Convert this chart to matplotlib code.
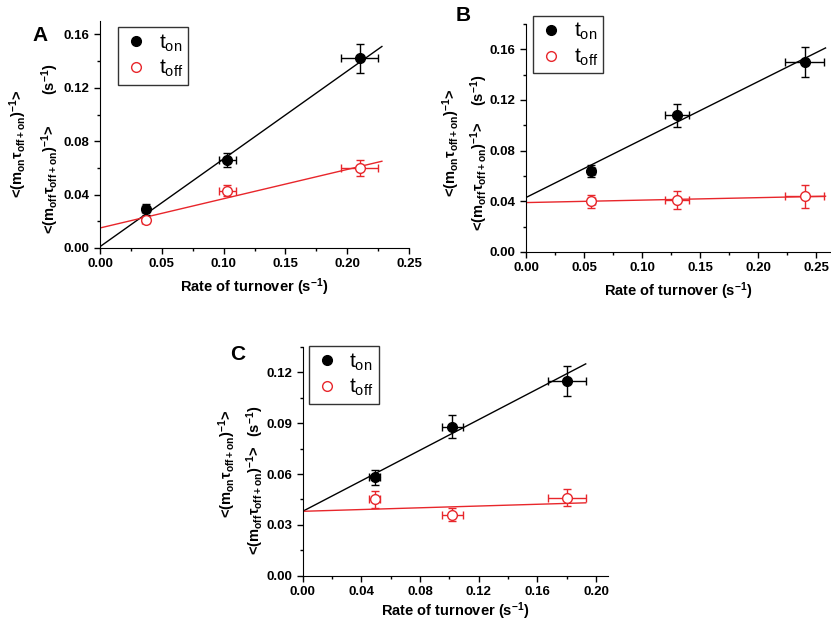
import matplotlib
matplotlib.use("Agg")
import matplotlib.pyplot as plt
from matplotlib.ticker import MultipleLocator

plt.rcParams['font.family'] = ['Liberation Sans', 'DejaVu Sans']
plt.rcParams['mathtext.fontset'] = 'custom'
plt.rcParams['mathtext.rm'] = 'Liberation Sans'
plt.rcParams['mathtext.it'] = 'Liberation Sans:italic'
plt.rcParams['mathtext.bf'] = 'Liberation Sans:bold'
plt.rcParams['mathtext.default'] = 'bf'

# panel A
a_x = [0.037, 0.103, 0.210]
a_xerr = [0.003, 0.007, 0.015]
a_on = [0.029, 0.066, 0.142]
a_on_err = [0.004, 0.005, 0.011]
a_off = [0.021, 0.043, 0.060]
a_off_err = [0.002, 0.004, 0.006]
a_fit_x = [0.0, 0.228]
a_fit_on = [0.001, 0.151]
a_fit_off = [0.015, 0.065]

# panel B
b_x = [0.056, 0.130, 0.240]
b_xerr = [0.003, 0.010, 0.017]
b_on = [0.064, 0.108, 0.150]
b_on_err = [0.005, 0.009, 0.012]
b_off = [0.040, 0.041, 0.044]
b_off_err = [0.005, 0.007, 0.009]
b_fit_x = [0.0, 0.258]
b_fit_on = [0.043, 0.161]
b_fit_off = [0.039, 0.044]

# panel C
c_x = [0.049, 0.102, 0.180]
c_xerr = [0.004, 0.007, 0.013]
c_on = [0.058, 0.088, 0.115]
c_on_err = [0.0045, 0.007, 0.009]
c_off = [0.045, 0.036, 0.046]
c_off_err = [0.005, 0.004, 0.005]
c_fit_x = [0.0, 0.193]
c_fit_on = [0.038, 0.125]
c_fit_off = [0.038, 0.043]

RED = '#e8262b'
ylab_on = '<(m$_{on}$τ$_{off+on}$)$^{-1}$>'
ylab_off = '<(m$_{off}$τ$_{off+on}$)$^{-1}$>'
ylab_unit = '(s$^{-1}$)'


def panel(ax, letter, letter_pos, leg_pos, ylab_pos, x, xerr, on, on_err,
          off, off_err, fx, fon, foff, xlim, ylim, xmaj, ymaj, xpad=4):
    ax.plot(fx, fon, color='black', lw=1.0)
    ax.plot(fx, foff, color=RED, lw=1.0)
    ax.errorbar(x, on, xerr=xerr, yerr=on_err, fmt='none', ecolor='black',
                elinewidth=1.0, capsize=3, capthick=1.0)
    ax.errorbar(x, off, xerr=xerr, yerr=off_err, fmt='none', ecolor=RED,
                elinewidth=1.0, capsize=3, capthick=1.0)
    h1, = ax.plot(x, on, 'o', color='black', ms=7, label=r'$\mathrm{t_{on}}$',
                  zorder=5)
    h2, = ax.plot(x, off, 'o', mfc='white', mec=RED, mew=1.0, ms=7,
                  label=r'$\mathrm{t_{off}}$', zorder=5)
    ax.set_xlim(*xlim)
    ax.set_ylim(*ylim)
    ax.xaxis.set_major_locator(MultipleLocator(xmaj))
    ax.xaxis.set_minor_locator(MultipleLocator(xmaj / 2))
    ax.yaxis.set_major_locator(MultipleLocator(ymaj))
    ax.yaxis.set_minor_locator(MultipleLocator(ymaj / 2))
    ax.xaxis.set_major_formatter(plt.FormatStrFormatter('%.2f'))
    ax.yaxis.set_major_formatter(plt.FormatStrFormatter('%.2f'))
    for s in ['top', 'right']:
        ax.spines[s].set_visible(False)
    ax.tick_params(which='major', direction='out', length=4, width=1,
                   labelsize=9.5)
    ax.tick_params(which='minor', direction='out', length=2.5, width=1)
    for lab in ax.get_xticklabels() + ax.get_yticklabels():
        lab.set_fontweight('bold')
    ax.set_xlabel('Rate of turnover (s$^{-1}$)', fontsize=10.5,
                  fontweight='bold', labelpad=xpad)
    # two-line y label, pieces placed as in the original figure
    (x1, y1), (x2, y2), (x3, y3) = ylab_pos
    for txt, px, py in [(ylab_on, x1, y1), (ylab_off, x2, y2),
                        (ylab_unit, x3, y3)]:
        ax.text(px, py, txt, transform=ax.transAxes, rotation=90,
                fontsize=10.5, fontweight='bold', ha='center', va='center')
    leg = ax.legend(handles=[h1, h2], loc='upper left',
                    bbox_to_anchor=leg_pos, fontsize=15, frameon=True,
                    fancybox=False, edgecolor='black', handlelength=1.2,
                    handletextpad=0.5, borderpad=0.25, labelspacing=0.22,
                    borderaxespad=0)
    leg.get_frame().set_linewidth(1.0)
    ax.text(letter_pos[0], letter_pos[1], letter, transform=ax.transAxes,
            fontsize=15, fontweight='bold', ha='center', va='center')


fig = plt.figure(figsize=(8.31, 6.25), dpi=100)
ax_a = fig.add_axes([0.1203, 0.6032, 0.372, 0.363])
ax_b = fig.add_axes([0.633, 0.5968, 0.366, 0.365])
ax_c = fig.add_axes([0.3643, 0.0789, 0.367, 0.366])

panel(ax_a, 'A', (-0.194, 0.938), (0.058, 0.974),
      [(-0.265, 0.46), (-0.162, 0.30), (-0.162, 0.745)],
      a_x, a_xerr, a_on, a_on_err, a_off, a_off_err,
      a_fit_x, a_fit_on, a_fit_off, (0, 0.25), (0, 0.17), 0.05, 0.04)
panel(ax_b, 'B', (-0.207, 1.035), (0.023, 1.035),
      [(-0.247, 0.48), (-0.153, 0.33), (-0.153, 0.71)],
      b_x, b_xerr, b_on, b_on_err, b_off, b_off_err,
      b_fit_x, b_fit_on, b_fit_off, (0, 0.262), (0, 0.18), 0.05, 0.04)
panel(ax_c, 'C', (-0.212, 0.965), (0.02, 1.004),
      [(-0.248, 0.49), (-0.156, 0.33), (-0.156, 0.675)],
      c_x, c_xerr, c_on, c_on_err, c_off, c_off_err,
      c_fit_x, c_fit_on, c_fit_off, (0, 0.208), (0, 0.135), 0.04, 0.03,
      xpad=2)

fig.savefig('out.png', dpi=100)
